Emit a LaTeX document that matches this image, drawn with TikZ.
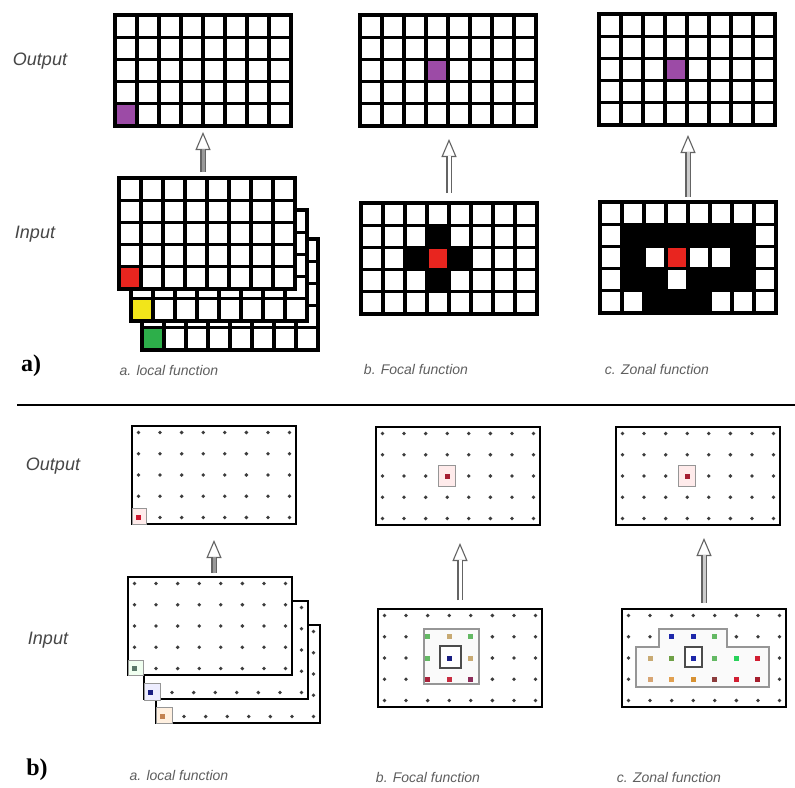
\documentclass[tikz,border=0pt]{standalone}
\usepackage{fontspec}
\setmainfont{Liberation Sans}
\newfontfamily\serifbf{Liberation Serif}
\usetikzlibrary{arrows.meta,calc}
\definecolor{purp}{RGB}{156,75,166}
\definecolor{tred}{RGB}{232,37,31}
\definecolor{tyel}{RGB}{242,229,26}
\definecolor{tgrn}{RGB}{45,175,74}
\definecolor{dotc}{RGB}{60,60,60}
\definecolor{arrc}{RGB}{100,100,100}
\definecolor{lblc}{RGB}{70,70,70}
\definecolor{fnc}{RGB}{95,95,95}
\definecolor{hlc}{RGB}{150,150,150}
\definecolor{dred}{RGB}{165,30,50}
\definecolor{ored}{RGB}{205,20,45}
\definecolor{navy}{RGB}{25,30,130}
\definecolor{gteal}{RGB}{90,120,105}
\definecolor{obrn}{RGB}{195,130,80}
\definecolor{mgrn}{RGB}{100,185,100}
\definecolor{tanc}{RGB}{200,170,115}
\definecolor{rdd}{RGB}{170,35,60}
\definecolor{rrd}{RGB}{200,45,65}
\definecolor{prd}{RGB}{140,45,90}
\definecolor{zblue}{RGB}{30,40,170}
\definecolor{olive}{RGB}{110,160,70}
\definecolor{bgrn}{RGB}{40,210,90}
\definecolor{zred}{RGB}{210,30,50}
\definecolor{peach}{RGB}{215,165,115}
\definecolor{orng}{RGB}{225,160,80}
\definecolor{orn2}{RGB}{215,145,50}
\definecolor{brd}{RGB}{140,60,60}
\definecolor{zdred}{RGB}{165,30,45}
\tikzset{
  gline/.style={line width=3.3pt, draw=black},
  tbox/.style={draw=black, line width=3.3pt, fill=white, minimum width=176pt, minimum height=111pt, inner sep=0pt, outer sep=0pt, anchor=north west},
  dbox/.style={draw=black, line width=2.2pt, fill=white, minimum width=164pt, minimum height=98pt, inner sep=0pt, outer sep=0pt, anchor=north west},
  hlst/.style={draw=hlc, line width=1pt},
  inbox/.style={draw=black!70, line width=1.1pt, fill=white},
  zone/.style={draw=hlc, line width=1.3pt, fill=black!2},
  biglbl/.style={font=\fontsize{18}{21}\selectfont\itshape, text=lblc, inner sep=0pt},
  fnlbl/.style={font=\fontsize{14}{17}\selectfont\itshape, text=fnc, inner sep=0pt},
  partlbl/.style={font=\serifbf\bfseries\fontsize{24}{28}\selectfont, text=black, inner sep=0pt},
  ahead/.style={draw=arrc, line width=1.1pt, -{Triangle[open,length=18pt,width=15pt]}},
  ashaft/.style={draw=arrc, line width=1.1pt, double distance=3pt},
}
\newcommand\tgrid[3]{\node[tbox] (#1) at (#2,#3) {};}
\newcommand\tlines[2]{%
  \foreach \i in {1,...,7}{\draw[gline] (#1+22*\i,#2) -- (#1+22*\i,#2+111);}
  \foreach \j in {1,...,4}{\draw[gline] (#1,#2+22.2*\j) -- (#1+176,#2+22.2*\j);}
  \draw[gline] (#1,#2) rectangle (#1+176,#2+111);}
\newcommand\tcell[5]{\fill[#5] (#1+22*#3,#2+22.2*#4) rectangle (#1+22*#3+22,#2+22.2*#4+22.2);}
\newcommand\dgrid[3]{\node[dbox] (#1) at (#2,#3) {};}
\newcommand\dotfield[2]{%
  \foreach \i in {0,...,7}{\foreach \j in {0,...,4}{\fill[dotc] (#1+6.5+21.571*\i,#2+6.5+21.25*\j) circle (1.9pt);}}}
\newcommand\cdt[5]{\fill[#5] (#1+6.5+21.571*#3-2.5,#2+6.5+21.25*#4-2.5) rectangle ++(5,5);}
\newcommand\hlsq[7]{\filldraw[hlst, fill=#7] (#1+6.5+21.571*#3-#5/2,#2+6.5+21.25*#4-#6/2) rectangle ++(#5,#6);}
\begin{document}
\begin{tikzpicture}[x=1pt,y=-1pt]
\useasboundingbox[fill=white] (0,0) rectangle (795,787);
% ================= part a) =================
\tgrid{outA}{115}{15}
\tcell{115}{15}{0}{4}{purp}
\tlines{115}{15}
\tgrid{inA3}{142}{239}
\tcell{142}{239}{0}{4}{tgrn}
\tlines{142}{239}
\tgrid{inA2}{131}{210}
\tcell{131}{210}{0}{4}{tyel}
\tlines{131}{210}
\tgrid{inA1}{119}{178}
\tcell{119}{178}{0}{4}{tred}
\tlines{119}{178}
\tgrid{outB}{360}{15}
\tcell{360}{15}{3}{2}{purp}
\tlines{360}{15}
\tgrid{inB}{361}{203}
\foreach \c/\r in {3/1,2/2,4/2,3/3}{\tcell{361}{203}{\c}{\r}{black}}
\tcell{361}{203}{3}{2}{tred}
\tlines{361}{203}
\tgrid{outC}{599}{14}
\tcell{599}{14}{3}{2}{purp}
\tlines{599}{14}
\tgrid{inC}{600}{202}
\foreach \c/\r in {1/1,2/1,3/1,4/1,5/1,6/1,1/2,6/2,1/3,2/3,4/3,5/3,6/3,2/4,3/4,4/4}{\tcell{600}{202}{\c}{\r}{black}}
\tcell{600}{202}{3}{2}{tred}
\tlines{600}{202}
\draw[ahead, shorten <=6pt, shorten >=6pt] (outA.south |- inA1.north) -- (outA.south);
\draw[ashaft, double=black!40, shorten <=6pt, shorten >=23pt] (outA.south |- inA1.north) -- (outA.south);
\draw[ahead, shorten <=10pt, shorten >=13pt] (inB.north) -- (outB.south -| inB.north);
\draw[ashaft, double=white, shorten <=10pt, shorten >=30pt] (inB.north) -- (outB.south -| inB.north);
\draw[ahead, shorten <=5pt, shorten >=10pt] (inC.north) -- (outC.south -| inC.north);
\draw[ashaft, double=black!20, shorten <=5pt, shorten >=27pt] (inC.north) -- (outC.south -| inC.north);
\node[biglbl] (lOutA) at (40,61) {Output};
\node[biglbl] (lInA) at (35,234) {Input};
\node[partlbl] (pa) at (31,366) {a)};
\node[fnlbl] (fa1) at (169,370) {a. local function};
\node[fnlbl] (fa2) at (416,369) {b. Focal function};
\node[fnlbl] (fa3) at (657,369) {c. Zonal function};
\draw[line width=1.8pt] (17,405) -- (795,405);
% ================= part b) =================
\dgrid{boutA}{132}{426}
\dotfield{132}{426}
\filldraw[hlst, fill=red!8] (132.5,508.5) rectangle (146,524);
\cdt{132}{426}{0}{4}{ored}
\dgrid{binA3}{156}{625}
\dotfield{156}{625}
\filldraw[hlst, fill=orange!12] (156,707) rectangle (172,723);
\cdt{156}{625}{0}{4}{obrn}
\dgrid{binA2}{144}{601}
\dotfield{144}{601}
\filldraw[hlst, fill=blue!7] (144,683) rectangle (160,700);
\cdt{144}{601}{0}{4}{navy}
\dgrid{binA1}{128}{577}
\dotfield{128}{577}
\filldraw[hlst, fill=green!6] (128,660) rectangle (143,675);
\cdt{128}{577}{0}{4}{gteal}
\dgrid{boutB}{376}{427}
\dotfield{376}{427}
\hlsq{376}{427}{3}{2}{17}{21}{red!8}
\cdt{376}{427}{3}{2}{dred}
\dgrid{binB}{378}{609}
\dotfield{378}{609}
\filldraw[zone] (424,629) rectangle (479,684);
\foreach \c/\r/\k in {2/1/mgrn,3/1/tanc,4/1/mgrn,2/2/mgrn,4/2/tanc,2/3/rdd,3/3/rrd,4/3/prd}{\cdt{378}{609}{\c}{\r}{\k}}
\filldraw[inbox] (440,646) rectangle (461,668);
\cdt{378}{609}{3}{2}{navy}
\dgrid{boutC}{616}{427}
\dotfield{616}{427}
\hlsq{616}{427}{3}{2}{17}{21}{red!8}
\cdt{616}{427}{3}{2}{dred}
\dgrid{binC}{622}{609}
\dotfield{622}{609}
\filldraw[zone] (636,647) -- (659,647) -- (659,629) -- (727,629) -- (727,647) -- (769,647) -- (769,687) -- (636,687) -- cycle;
\foreach \c/\r/\k in {2/1/zblue,3/1/zblue,4/1/mgrn,1/2/tanc,2/2/olive,4/2/mgrn,5/2/bgrn,6/2/zred,1/3/peach,2/3/orng,3/3/orn2,4/3/brd,5/3/zred,6/3/zdred}{\cdt{622}{609}{\c}{\r}{\k}}
\filldraw[inbox] (685,647) rectangle (702,667);
\cdt{622}{609}{3}{2}{zblue}
\draw[ahead, shorten <=4pt, shorten >=16pt] (boutA.south |- binA1.north) -- (boutA.south);
\draw[ashaft, double=black!40, shorten <=4pt, shorten >=33pt] (boutA.south |- binA1.north) -- (boutA.south);
\draw[ahead, shorten <=9pt, shorten >=18pt] (binB.north) -- (boutB.south -| binB.north);
\draw[ashaft, double=white, shorten <=9pt, shorten >=35pt] (binB.north) -- (boutB.south -| binB.north);
\draw[ahead, shorten <=6pt, shorten >=13pt] (binC.north) -- (boutC.south -| binC.north);
\draw[ashaft, double=black!20, shorten <=6pt, shorten >=30pt] (binC.north) -- (boutC.south -| binC.north);
\node[biglbl] (lOutB) at (53,466) {Output};
\node[biglbl] (lInB) at (48,640) {Input};
\node[partlbl] (pb) at (37,770) {b)};
\node[fnlbl] (fb1) at (179,775) {a. local function};
\node[fnlbl] (fb2) at (428,777) {b. Focal function};
\node[fnlbl] (fb3) at (669,777) {c. Zonal function};
\end{tikzpicture}
\end{document}
